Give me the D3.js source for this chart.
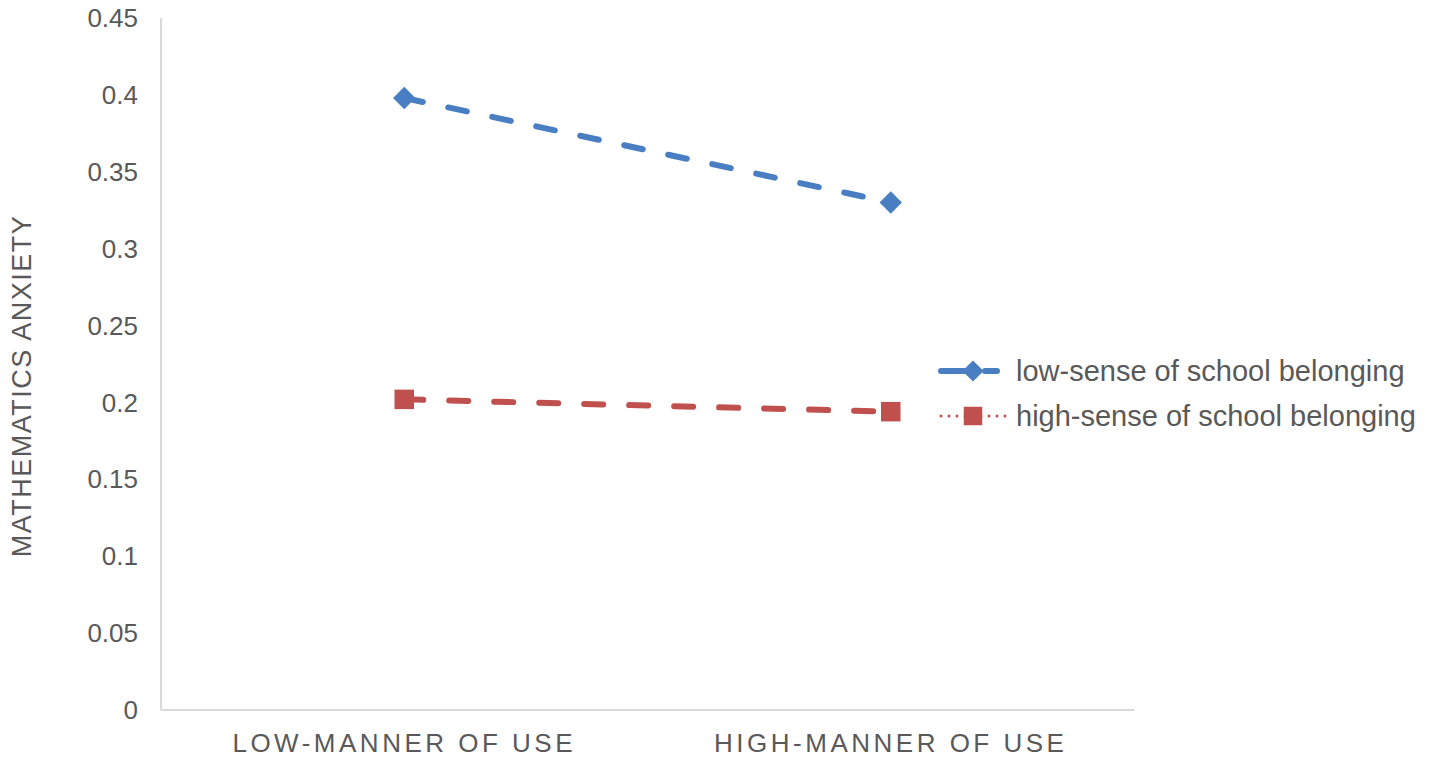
<!DOCTYPE html>
<html>
<head>
<meta charset="utf-8">
<script src="https://cdn.jsdelivr.net/npm/d3@7"></script>
<style>
  body { margin: 0; background: #fff; }
  text { font-family: "Liberation Sans", Arial, sans-serif; fill: #595959; }
</style>
</head>
<body>
<div id="chart"></div>
<script>
// chart data
const categories = ["LOW-MANNER OF USE", "HIGH-MANNER OF USE"];
const seriesNames = ["low-sense of school belonging", "high-sense of school belonging"];
const lowBelonging = [0.398, 0.330];
const highBelonging = [0.202, 0.194];
const yTicks = [0, 0.05, 0.1, 0.15, 0.2, 0.25, 0.3, 0.35, 0.4, 0.45];

const width = 1429, height = 759;
const margin = {left: 161, right: 295, top: 18, bottom: 49};

const svg = d3.select("#chart").append("svg")
    .attr("width", width)
    .attr("height", height);

const x = d3.scaleBand()
    .domain(categories)
    .range([margin.left, width - margin.right]);

const y = d3.scaleLinear()
    .domain([0, 0.45])
    .range([height - margin.bottom, margin.top]);

// axes lines
svg.append("line")
    .attr("x1", margin.left).attr("x2", margin.left)
    .attr("y1", y(0.45)).attr("y2", y(0))
    .attr("stroke", "#d9d9d9").attr("stroke-width", 2);
svg.append("line")
    .attr("x1", margin.left).attr("x2", width - margin.right)
    .attr("y1", y(0)).attr("y2", y(0))
    .attr("stroke", "#d9d9d9").attr("stroke-width", 2);

// y tick labels
svg.selectAll(".ytick")
    .data(yTicks)
    .enter().append("text")
    .attr("class", "ytick")
    .attr("x", 138)
    .attr("y", d => y(d))
    .attr("dy", "0.35em")
    .style("text-anchor", "end")
    .style("font-size", "26px")
    .text(d => d3.format("")(d));

// x tick labels
svg.selectAll(".xtick")
    .data(categories)
    .enter().append("text")
    .attr("class", "xtick")
    .attr("x", d => x(d) + x.bandwidth() / 2)
    .attr("y", 752)
    .style("text-anchor", "middle")
    .style("font-size", "26px")
    .style("letter-spacing", "3.5px")
    .style("font-family", "'Liberation Sans Narrow', 'Liberation Sans', sans-serif")
    .text(d => d);

// y axis title
svg.append("text")
    .attr("transform", "translate(31," + 386 + ") rotate(-90)")
    .style("text-anchor", "middle")
    .style("font-size", "27px")
    .style("letter-spacing", "1.5px")
    .style("font-family", "'Liberation Sans Narrow', 'Liberation Sans', sans-serif")
    .text("MATHEMATICS ANXIETY");

const series = [
  {name: seriesNames[0], values: lowBelonging, color: "#4a7ec2", symbol: d3.symbolSquare, rot: 45, size: 250, dash: "19 26"},
  {name: seriesNames[1], values: highBelonging, color: "#c0504d", symbol: d3.symbolSquare, rot: 0, size: 380, dash: "19 26"}
];

const line = d3.line()
    .x((d, i) => x(categories[i]) + x.bandwidth() / 2)
    .y(d => y(d));

series.forEach(s => {
  svg.append("path")
      .datum(s.values)
      .attr("d", line)
      .attr("fill", "none")
      .attr("stroke", s.color)
      .attr("stroke-width", 6)
      .attr("stroke-linecap", "round")
      .attr("stroke-dasharray", s.dash);

  svg.selectAll(null)
      .data(s.values)
      .enter().append("path")
      .attr("transform", (d, i) => "translate(" + (x(categories[i]) + x.bandwidth() / 2) + "," + y(d) + ") rotate(" + s.rot + ")")
      .attr("d", d3.symbol().type(s.symbol).size(s.size))
      .attr("fill", s.color);
});

// legend
const legend = svg.selectAll(".legend")
    .data(series)
    .enter().append("g")
    .attr("class", "legend")
    .attr("transform", (d, i) => "translate(0," + (371 + i * 45) + ")");

legend.append("line")
    .attr("x1", 941).attr("x2", 1006)
    .attr("stroke", d => d.color)
    .attr("stroke-width", (d, i) => i === 0 ? 6 : 3)
    .attr("stroke-linecap", "round")
    .attr("stroke-dasharray", (d, i) => i === 0 ? "26 18 12 20" : "0 8");

legend.append("path")
    .attr("transform", d => "translate(973,0) rotate(" + d.rot + ")")
    .attr("d", d => d3.symbol().type(d.symbol).size(d.size * 0.9)())
    .attr("fill", d => d.color);

legend.append("text")
    .attr("x", 1016)
    .attr("dy", "0.35em")
    .style("font-size", "29px")
    .text(d => d.name);
</script>
</body>
</html>
